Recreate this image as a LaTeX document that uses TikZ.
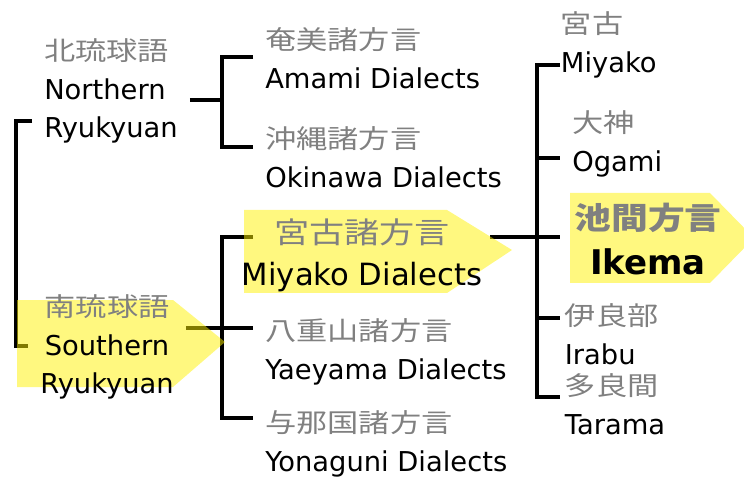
\documentclass[tikz,border=0pt]{standalone}
\usepackage{fontspec}
\setmainfont{DejaVu Sans}
\newfontfamily\jp[FakeStretch=1.2]{Noto Sans CJK JP}
\usetikzlibrary{backgrounds}
\newcommand{\jname}[2][19.5]{{\color{gray}\jp\fontsize{#1}{29}\selectfont #2}}

\begin{document}
\begin{tikzpicture}[x=0.75pt, y=-0.75pt, font=\fontsize{20.5}{29}\selectfont]
  \tikzstyle{lang} = [anchor=west, align=left, inner xsep=9pt, inner ysep=0pt]
  \tikzstyle{main} = [anchor=center, align=center, inner xsep=9pt, inner ysep=0pt]
  \tikzstyle{link} = [draw, line width=2.3pt]
  \tikzstyle{hilite} = [fill=yellow, fill opacity=0.5, draw=none]
  \useasboundingbox (0,0) rectangle (744,478);

  % groups
  \node [lang] (northern) at (32,91) {\jname{北琉球語}\\Northern\\Ryukyuan};
  \node [main] (southern) at (107,347) {\jname{南琉球語}\\Southern\\Ryukyuan};

  % dialects
  \node [lang] (amami) at (253,58) {\jname{奄美諸方言}\\Amami Dialects};
  \node [lang] (okinawa) at (253,157) {\jname{沖縄諸方言}\\Okinawa Dialects};
  \node [main, inner xsep=6pt, font=\fontsize{23}{31.5}\selectfont] (miyakod) at (362,255)
    {\jname[22]{宮古諸方言}\\Miyako Dialects};
  \node [lang] (yaeyama) at (253,352) {\jname{八重山諸方言}\\Yaeyama Dialects};
  \node [lang] (yonaguni) at (253,444) {\jname{与那国諸方言}\\Yonaguni Dialects};

  % miyako varieties
  \node [lang, inner xsep=0.5pt] (miyako) at (560,45) {\jname{宮古}\\Miyako};
  \node [lang] (ogami) at (560,144) {\jname{大神}\\Ogami};
  \node [main, font=\fontsize{25.5}{34}\selectfont] (ikema) at (648,239)
    {\jname[23]{\bfseries 池間方言}\\\textbf{Ikema}};
  \node [lang, inner xsep=3.5pt] (irabu) at (560,334) {\jname{伊良部}\\Irabu};
  \node [lang, inner xsep=3.5pt] (tarama) at (560,404) {\jname{多良間}\\Tarama};

  \begin{pgfonlayer}{background}
    % root
    \path [link] (northern.west |- 0,121) -- ++(-16,0) |- (southern.west |- 0,346);

    % northern
    \coordinate (nj) at (222,100);
    \path [link] (northern.east |- nj) -- (nj);
    \path [link] (amami.west |- 0,57) -| (nj) |- (okinawa.west |- 0,147);

    % southern
    \coordinate (sj) at (222,328);
    \coordinate (mdtick) at (253,237);
    \path [link] (southern.east |- sj) -- (yaeyama.west |- sj);
    \path [link] (mdtick) -| (sj) |- (yonaguni.west |- 0,418);

    % miyako
    \coordinate (mj) at (537,237);
    \coordinate (iktick) at (560,237);
    \path [link] (miyakod.east |- mj) -- (iktick);
    \path [link] (miyako.west |- 0,65) -| (mj) |- (tarama.west |- 0,397);
    \path [link] (mj |- 0,158) -- (ogami.west |- 0,158);
    \path [link] (mj |- 0,318) -- (irabu.west |- 0,318);

    % highlights
    \path [hilite] (17,300) -- (173,300) -- (225,342) -- (173,387) -- (17,387) -- cycle;
    \path [hilite] (244,210) -- (447,210) -- (512,250) -- (447,293) -- (244,293) -- cycle;
    \path [hilite] (570,193) -- (710,193) -- (754,238) -- (710,283) -- (570,283) -- cycle;
  \end{pgfonlayer}
\end{tikzpicture}
\end{document}
